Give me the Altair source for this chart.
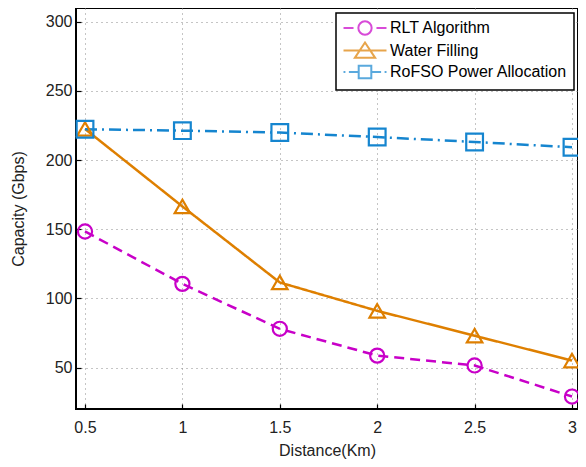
import altair as alt
import pandas as pd

distance = [0.5, 1, 1.5, 2, 2.5, 3]
rlt = [148.4, 110.5, 78.0, 58.6, 51.5, 29.0]
water = [222.5, 166.5, 111.5, 91.0, 73.0, 55.0]
rofso = [222.3, 221.3, 219.9, 216.7, 213.1, 209.3]

series_names = ["RLT Algorithm", "Water Filling", "RoFSO Power Allocation"]
colors = ["#C800C8", "#DE7F00", "#1585CF"]
x_ticks = [0.5, 1, 1.5, 2, 2.5, 3]
y_ticks = [50, 100, 150, 200, 250, 300]

rows = []
for name, vals in zip(series_names, [rlt, water, rofso]):
    for d, v in zip(distance, vals):
        rows.append({"distance": d, "capacity": v, "series": name})
df = pd.DataFrame(rows)

FONT = "Liberation Sans"

x_enc = alt.X(
    "distance:Q",
    scale=alt.Scale(domain=[0.4538, 3.0308], nice=False, zero=False),
    axis=alt.Axis(values=x_ticks, title="Distance(Km)", format="~g",
                  labelPadding=10, titlePadding=7),
)
y_enc = alt.Y(
    "capacity:Q",
    scale=alt.Scale(domain=[20, 310], nice=False, zero=False),
    axis=alt.Axis(values=y_ticks, title="Capacity (Gbps)",
                  labelPadding=4, titlePadding=19),
)

base = alt.Chart(df)

lines = base.mark_line(strokeWidth=2.5).encode(
    x=x_enc,
    y=y_enc,
    color=alt.Color("series:N", scale=alt.Scale(domain=series_names, range=colors), legend=None),
    strokeDash=alt.StrokeDash(
        "series:N",
        scale=alt.Scale(domain=series_names, range=[[10, 6], [1, 0], [12, 5, 2, 5]]),
        legend=None,
    ),
)

points = base.mark_point(filled=False, strokeWidth=2.2, opacity=1).encode(
    x=x_enc,
    y=y_enc,
    color=alt.Color("series:N", scale=alt.Scale(domain=series_names, range=colors), legend=None),
    shape=alt.Shape("series:N",
                    scale=alt.Scale(domain=series_names, range=["circle", "triangle-up", "square"]),
                    legend=None),
    size=alt.Size("series:N", scale=alt.Scale(domain=series_names, range=[200, 280, 140]), legend=None),
)

legend_paths = [
    "M-3.07,0H-1.64M1.64,0H3.07M0.95,0A0.95,0.95 0 1,1 -0.95,0A0.95,0.95 0 1,1 0.95,0Z",
    "M-3.07,0H3.07M0,-1.15L1.45,1.05L-1.45,1.05Z",
    "M-3.07,0H-2.8M-2.3,0H-1.0M1.0,0H2.3M2.8,0H3.07M-0.9,-0.9H0.9V0.9H-0.9Z",
]

legend_kw = dict(
    title=None, orient="none", legendX=260, legendY=5,
    labelFont=FONT, labelFontSize=16, labelColor="black", labelLimit=400,
    symbolSize=196, symbolStrokeWidth=2,
    symbolOffset=14, labelOffset=17,
    padding=7, rowPadding=-1.5,
    strokeColor="black", fillColor="white", cornerRadius=0,
)

legend_layer = base.transform_filter("datum.distance < 0").mark_point(
    filled=False, strokeWidth=2
).encode(
    x=x_enc,
    y=y_enc,
    color=alt.Color(
        "series:N",
        scale=alt.Scale(domain=series_names, range=colors),
        legend=alt.Legend(**legend_kw),
    ),
    shape=alt.Shape(
        "series:N",
        scale=alt.Scale(domain=series_names, range=legend_paths),
        legend=alt.Legend(**legend_kw),
    ),
)

chart = (
    alt.layer(lines, points, legend_layer)
    .resolve_scale(color="independent", shape="independent", size="independent", strokeDash="independent")
    .properties(
        width=502,
        height=401,
        autosize=alt.AutoSizeParams(type="none"),
        padding={"left": 68, "top": 0, "right": 0, "bottom": 50},
    )
    .configure_view(stroke="black", strokeWidth=2)
    .configure_axis(
        domain=False,
        grid=True,
        gridColor="#8a8a8a",
        gridDash=[1, 4],
        gridWidth=1,
        ticks=True,
        tickColor="black",
        tickWidth=1.2,
        tickSize=5,
        offset=-5,
        labelFont=FONT,
        labelFontSize=16,
        labelColor="#222222",
        titleFont=FONT,
        titleFontSize=16,
        titleFontWeight="normal",
        titleColor="#222222",
    )
    .configure_legend(strokeWidth=1.5)
)

chart.save("out.html", embed_options={"renderer": "svg", "actions": False})
